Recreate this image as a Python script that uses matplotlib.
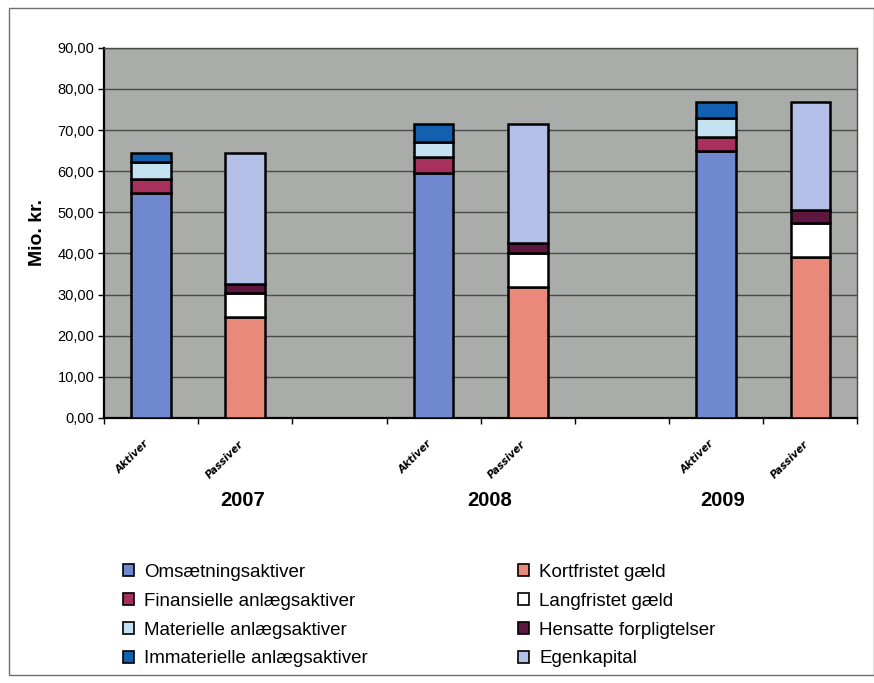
import numpy as np
import matplotlib
matplotlib.use("Agg")
import matplotlib.pyplot as plt
from matplotlib.patches import Rectangle, Patch

# Data (Mio. kr.)
years = ["2007", "2008", "2009"]
side_labels = ["Aktiver", "Passiver"]

# Aktiver (stacked bottom -> top)
omsaetning = [54.7, 59.6, 64.8]
finansielle = [3.4, 3.9, 3.6]
materielle = [4.2, 3.6, 4.6]
immaterielle = [2.1, 4.4, 3.9]

# Passiver (stacked bottom -> top)
kortfristet = [24.6, 31.9, 39.2]
langfristet = [5.8, 8.2, 8.3]
hensatte = [2.2, 2.5, 3.1]
egenkapital = [31.8, 28.9, 26.3]

aktiver_series = [
    ("Omsætningsaktiver", omsaetning, "#7088d0"),
    ("Finansielle anlægsaktiver", finansielle, "#a8305c"),
    ("Materielle anlægsaktiver", materielle, "#c4e2f2"),
    ("Immaterielle anlægsaktiver", immaterielle, "#1460b0"),
]
passiver_series = [
    ("Kortfristet gæld", kortfristet, "#e8897a"),
    ("Langfristet gæld", langfristet, "#ffffff"),
    ("Hensatte forpligtelser", hensatte, "#5e1840"),
    ("Egenkapital", egenkapital, "#b4c0e8"),
]

fig = plt.figure(figsize=(8.74, 6.83), dpi=100)
fig.patch.set_facecolor("white")
ax = fig.add_axes([0.119, 0.388, 0.862, 0.542])
ax.set_facecolor("#a9aca9")

x_akt = np.arange(len(years)) * 3 + 0.5
x_pas = np.arange(len(years)) * 3 + 1.5
width = 0.42

def stack(xs, series):
    bottom = np.zeros(len(xs))
    for name, vals, color in series:
        vals = np.array(vals)
        ax.bar(xs, vals, width, bottom=bottom, color=color,
               edgecolor="black", linewidth=1.8, label=name, zorder=3)
        bottom += vals

stack(x_akt, aktiver_series)
stack(x_pas, passiver_series)

ax.set_xlim(0, 8)
ax.set_ylim(0, 90)
ax.set_yticks(np.arange(0, 91, 10))
ax.set_yticklabels([f"{v:.2f}".replace(".", ",") for v in range(0, 91, 10)],
                   fontsize=10.5, fontfamily="Liberation Sans")
ax.yaxis.grid(True, color="#4a4a4a", linewidth=1.0, zorder=0)
ax.set_axisbelow(True)
ax.tick_params(axis="y", length=4, width=1, color="black", pad=3)

# category boundaries as ticks, labels at bar centres
ax.set_xticks(np.arange(0, 9, 1), minor=True)
ax.tick_params(axis="x", which="minor", length=4, width=1, color="black")
centers = np.sort(np.concatenate([x_akt, x_pas]))
ax.set_xticks(centers)
ax.set_xticklabels(side_labels * len(years), rotation=45, ha="right",
                   va="top", fontsize=7.5, fontweight="bold", fontstyle="italic",
                   fontfamily="DejaVu Sans")
ax.tick_params(axis="x", which="major", length=0, pad=15)

for s in ["left", "bottom"]:
    ax.spines[s].set_color("black")
    ax.spines[s].set_linewidth(1.6)
for s in ["top", "right"]:
    ax.spines[s].set_color("#4a4a4a")
    ax.spines[s].set_linewidth(1.0)

ax.set_ylabel("Mio. kr.", fontsize=14, fontweight="bold",
              fontfamily="Liberation Sans", labelpad=8)

# year labels under each group
year_x = [1.47, 4.09, 6.57]
for xp, yr in zip(year_x, years):
    ax.text(xp, -20.0, yr, ha="center", va="center",
            fontsize=14.5, fontweight="bold", fontfamily="Liberation Sans",
            clip_on=False)

# legends
def legend_for(series, x):
    handles = [Patch(facecolor=c, edgecolor="black", linewidth=1.2, label=n)
               for n, _, c in series]
    leg = fig.legend(handles=handles, loc="upper left",
                     bbox_to_anchor=(x, 0.199), frameon=False,
                     handlelength=0.6, handleheight=0.6, handletextpad=0.55,
                     labelspacing=0.63,
                     prop={"family": "Liberation Sans", "size": 13.5})
    return leg

legend_for(aktiver_series, 0.121)
legend_for(passiver_series, 0.573)

# outer frame
fig.add_artist(Rectangle((0.010, 0.012), 0.99, 0.976, transform=fig.transFigure,
                         fill=False, edgecolor="#707070", linewidth=1.0))

fig.savefig("out.png", dpi=100)
